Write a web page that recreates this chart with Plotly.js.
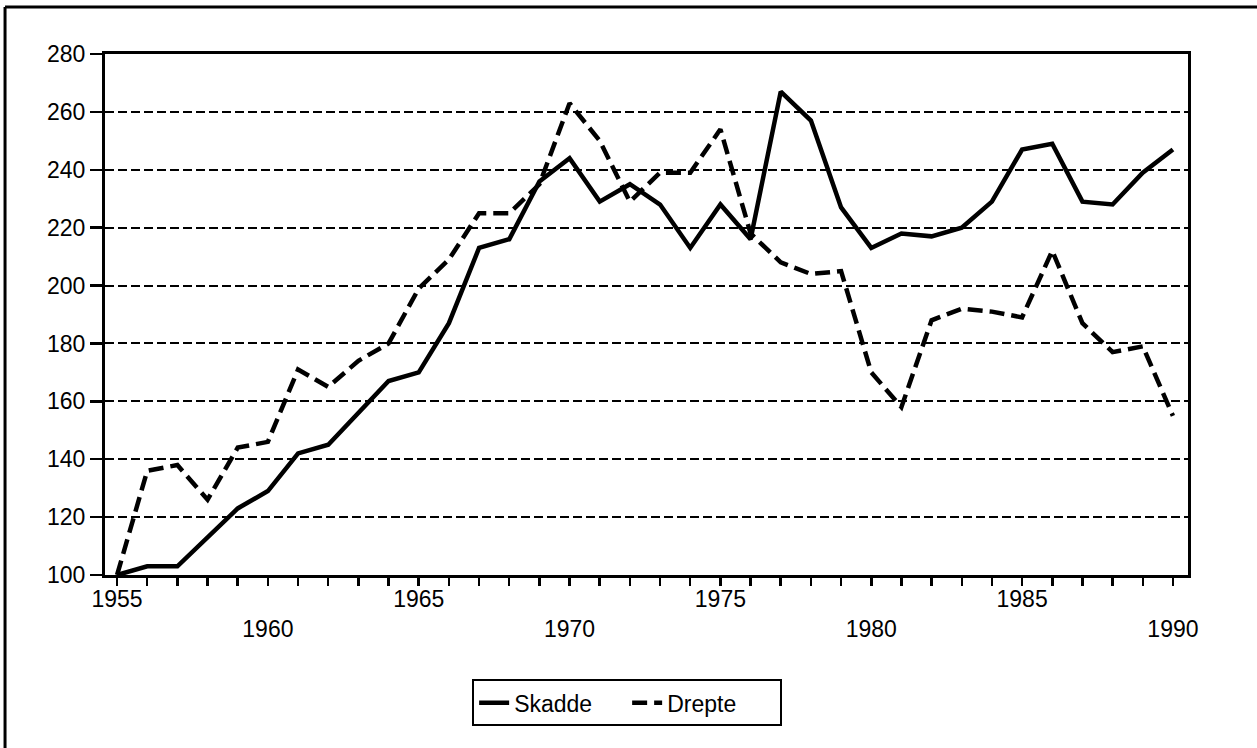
<!DOCTYPE html>
<html>
<head>
<meta charset="utf-8">
<script src="https://cdn.plot.ly/plotly-3.0.1.min.js"></script>
<style>
html,body{margin:0;padding:0;background:#fff;}
#chart{width:1257px;height:748px;}
</style>
</head>
<body>
<div id="chart"></div>
<script>
const years = [1955,1956,1957,1958,1959,1960,1961,1962,1963,1964,1965,1966,1967,1968,1969,1970,1971,1972,1973,1974,1975,1976,1977,1978,1979,1980,1981,1982,1983,1984,1985,1986,1987,1988,1989,1990];
const skadde = [100,103,103,113,123,129,142,145,156,167,170,187,213,216,236,244,229,235,228,213,228,216,267,257,227,213,218,217,220,229,247,249,229,228,239,247];
const drepte = [100,136,138,126,144,146,171,165,174,180,199,209,225,225,235,263,250,229,239,239,254,218,208,204,205,170,158,188,192,191,189,212,187,177,179,155];
const labelYearsTop = [1955,1965,1975,1985];
const labelYearsBottom = [1960,1970,1980,1990];
const yTicks = [100,120,140,160,180,200,220,240,260,280];

const tickText = years.map(y => labelYearsTop.includes(y) ? String(y) : (labelYearsBottom.includes(y) ? '<br>' + y : ''));

const FONT = 'Liberation Sans, Arial, Helvetica, sans-serif';

const traces = [
  {x: years, y: skadde, name: 'Skadde', type: 'scatter', mode: 'lines',
   line: {color: '#000', width: 4.5, dash: 'solid'}},
  {x: years, y: drepte, name: 'Drepte', type: 'scatter', mode: 'lines',
   line: {color: '#000', width: 4.5, dash: '15px,7px'}}
];

const layout = {
  width: 1257, height: 748,
  margin: {l: 105, r: 69, t: 54, b: 173},
  paper_bgcolor: '#fff', plot_bgcolor: '#fff',
  font: {family: FONT, color: '#000', size: 23},
  showlegend: true,
  legend: {
    orientation: 'h', x: 0.339, xanchor: 'left', y: -0.2, yanchor: 'top',
    bordercolor: '#000', borderwidth: 2, bgcolor: '#fff',
    font: {family: FONT, size: 23, color: '#000'},
    entrywidth: 108, entrywidthmode: 'pixels', tracegroupgap: 0
  },
  xaxis: {
    range: [1954.6, 1990.5],
    tickmode: 'array', tickvals: years, ticktext: tickText,
    ticks: 'outside', ticklen: 8, tickwidth: 2.5, tickcolor: '#000',
    ticklabelstandoff: -7,
    showline: true, linecolor: '#000', linewidth: 3, mirror: true,
    showgrid: false, zeroline: false,
    tickfont: {family: FONT, size: 23, color: '#000'},
    tickangle: 0
  },
  yaxis: {
    range: [100, 280],
    tickmode: 'array', tickvals: yTicks, ticktext: yTicks.map(String),
    ticks: 'outside', ticklen: 12, tickwidth: 2.5, tickcolor: '#000',
    showline: true, linecolor: '#000', linewidth: 3, mirror: true,
    showgrid: true, gridcolor: '#000', gridwidth: 2, griddash: '9px,4px',
    zeroline: false,
    tickfont: {family: FONT, size: 23, color: '#000'}
  },
  shapes: [
    {type: 'line', xref: 'paper', yref: 'paper', x0: -0.0923, x1: 1.07, y0: 1.0902, y1: 1.0902,
     line: {color: '#000', width: 3}},
    {type: 'line', xref: 'paper', yref: 'paper', x0: -0.0923, x1: -0.0923, y0: 1.0902, y1: -0.34,
     line: {color: '#000', width: 3}}
  ]
};

Plotly.newPlot('chart', traces, layout, {displayModeBar: false, staticPlot: true});
</script>
</body>
</html>
